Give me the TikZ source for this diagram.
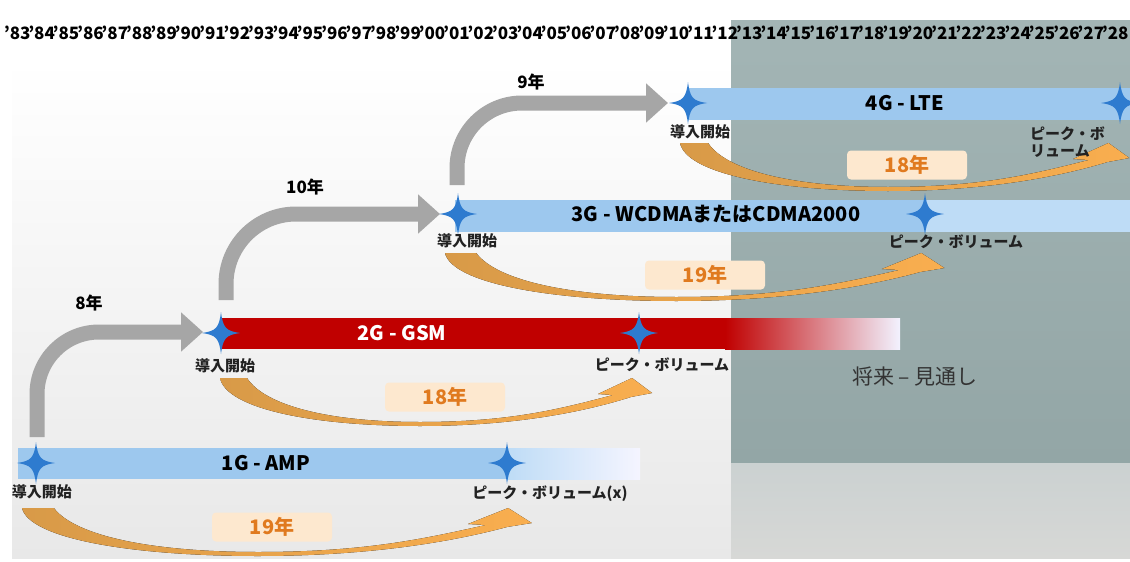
\documentclass[tikz,border=0pt]{standalone}
\usepackage{fontspec}
\setmainfont{Noto Sans CJK JP}
\usetikzlibrary{arrows.meta,calc}
\definecolor{starblue}{HTML}{2E7BCF}
\definecolor{barblue}{HTML}{9DC8EE}
\definecolor{barpale}{HTML}{BEDCF6}
\definecolor{gsmred}{HTML}{C00000}
\definecolor{peach}{HTML}{FDE8CF}
\definecolor{orangetxt}{HTML}{E07A1F}
\definecolor{greyarrow}{HTML}{A6A6A6}
\definecolor{panelA}{HTML}{A3B5B5}
\definecolor{panelB}{HTML}{93A6A6}
\definecolor{floorA}{HTML}{CBD1D1}
\definecolor{floorB}{HTML}{D7D8D6}
\definecolor{swooshdark}{HTML}{D89A48}
\definecolor{swooshlight}{HTML}{F9AE4F}
\definecolor{txtdark}{HTML}{222222}
\newcommand\swooshshape{(0,0) .. controls (6,30) and (90,48) .. (200,48) .. controls (300,48) and (370,32) .. (411,19) -- (432,15) -- (412,0) -- (378,16) -- (393,17) .. controls (340,31) and (290,44) .. (200,44) .. controls (110,44) and (45,28) .. (27,0) -- cycle}
\begin{document}
\begin{tikzpicture}[x=1pt,y=-1pt,
  lab/.style={font=\bfseries\fontsize{15}{17}\selectfont, text=txtdark, inner sep=0pt},
  barlab/.style={font=\bfseries\fontsize{20}{20}\selectfont, inner sep=0pt},
  yrbox/.style={fill=peach, rounded corners=4pt, minimum width=120pt, minimum height=29pt, inner sep=0pt, text=orangetxt, font=\bfseries\fontsize{20}{20}\selectfont},
  gaplab/.style={font=\bfseries\fontsize{17}{17}\selectfont, inner sep=0pt},
  grayarrow/.style={draw=greyarrow, line width=15pt, -{Triangle[length=22pt,width=38pt]}},
  yearlab/.style={font=\bfseries\fontsize{17}{17}\selectfont, inner sep=0pt},
  swoosh/.style={left color=swooshdark, right color=swooshlight, draw=none},
  star4/.pic={\fill[starblue] (0,-21) .. controls (2,-5) and (5,-2) .. (19,0) .. controls (5,2) and (2,5) .. (0,21) .. controls (-2,5) and (-5,2) .. (-19,0) .. controls (-5,-2) and (-2,-5) .. (0,-21) -- cycle;}
]
\useasboundingbox (0,0) rectangle (1130,562);
% background
\fill[white] (0,0) rectangle (1130,562);
\shade[top color=white, bottom color=black!9] (12,60) rectangle (1130,558);
\fill[white] (12,20) rectangle (1130,60);
% future panel
\shade[top color=panelA, bottom color=panelB] (731,20) rectangle (1130,463);
\shade[top color=floorA, bottom color=floorB] (731,463) rectangle (1130,558);
% year axis
\foreach \i in {0,...,45}{
  \pgfmathtruncatemacro\yy{mod(83+\i,100)}
  \node[yearlab] (yr\i) at ({17.2+24.4*\i},33) {'\ifnum\yy<10 0\fi\yy};
}
% coordinates
\coordinate (s1) at (36,463);  \coordinate (p1) at (507,463);
\coordinate (s2) at (221,333); \coordinate (p2) at (639,333);
\coordinate (s3) at (458,214); \coordinate (p3) at (925,214);
\coordinate (s4) at (688,103); \coordinate (p4) at (1120,103);
% bars
\fill[barblue] (18,448) rectangle (507,479);
\shade[left color=barpale, right color=blue!4] (507,448) rectangle (640,479);
\fill[gsmred] (221,318) rectangle (725,349);
\shade[left color=gsmred, right color=blue!5] (725,318) rectangle (900,349);
\fill[barblue] (455,200) rectangle (925,232);
\fill[barpale] (925,200) rectangle (1130,232);
\fill[barblue] (688,88) rectangle (1130,120);
% bar labels
\node[barlab] (t1) at (266,463) {1G - AMP};
\node[barlab, text=white] (t2) at (402,333) {2G - GSM};
\node[barlab] (t3) at (716,214) {3G - WCDMAまたはCDMA2000};
\node[barlab] (t4) at (905,103) {4G - LTE};
% stars
\foreach \c in {s1,p1,s2,p2,s3,p3,s4,p4}{ \pic at (\c) {star4}; }
% grey generation arrows
\coordinate (g1a) at (37,437);  \coordinate (g1b) at (203,332);
\coordinate (g2a) at (226,300); \coordinate (g2b) at (440,214);
\coordinate (g3a) at (457,185); \coordinate (g3b) at (668,103);
\draw[grayarrow, rounded corners=62pt] (g1a) |- (g1b);
\draw[grayarrow, rounded corners=70pt] (g2a) |- (g2b);
\draw[grayarrow, rounded corners=65pt] (g3a) |- (g3b);
\node[gaplab] (d1) at (89,303) {8年};
\node[gaplab] (d2) at (305,187) {10年};
\node[gaplab] (d3) at (531,82) {9年};
% orange lifetime swooshes
\begin{scope}[shift={(22,508)}, xscale=1.18] \fill[swoosh] \swooshshape; \end{scope}
\begin{scope}[shift={(220,378)}, xscale=1.0] \fill[swoosh] \swooshshape; \end{scope}
\begin{scope}[shift={(445,253)}, xscale=1.156] \fill[swoosh] \swooshshape; \end{scope}
\begin{scope}[shift={(680,143)}, xscale=1.04] \fill[swoosh] \swooshshape; \end{scope}
\node[yrbox] (b1) at (272,527) {19年};
\node[yrbox] (b2) at (445,397) {18年};
\node[yrbox] (b3) at (705,275) {19年};
\node[yrbox] (b4) at (907,165) {18年};
% start labels
\node[lab] (l1) at (42,492) {導入開始};
\node[lab] (l2) at (225,366) {導入開始};
\node[lab] (l3) at (467,241) {導入開始};
\node[lab] (l4) at (700,132) {導入開始};
% peak labels
\node[lab] (k1) at (550,494) {ピーク・ボリューム(x)};
\node[lab] (k2) at (662,365) {ピーク・ボリューム};
\node[lab] (k3) at (956,242) {ピーク・ボリューム};
\node[lab, align=left, anchor=north west] (k4) at (1030,127) {ピーク・ボ\\リューム};
% future
\node[font=\fontsize{21}{21}\selectfont, text=black!80, inner sep=0pt] (fut) at (915,377) {将来 – 見通し};
\end{tikzpicture}
\end{document}
